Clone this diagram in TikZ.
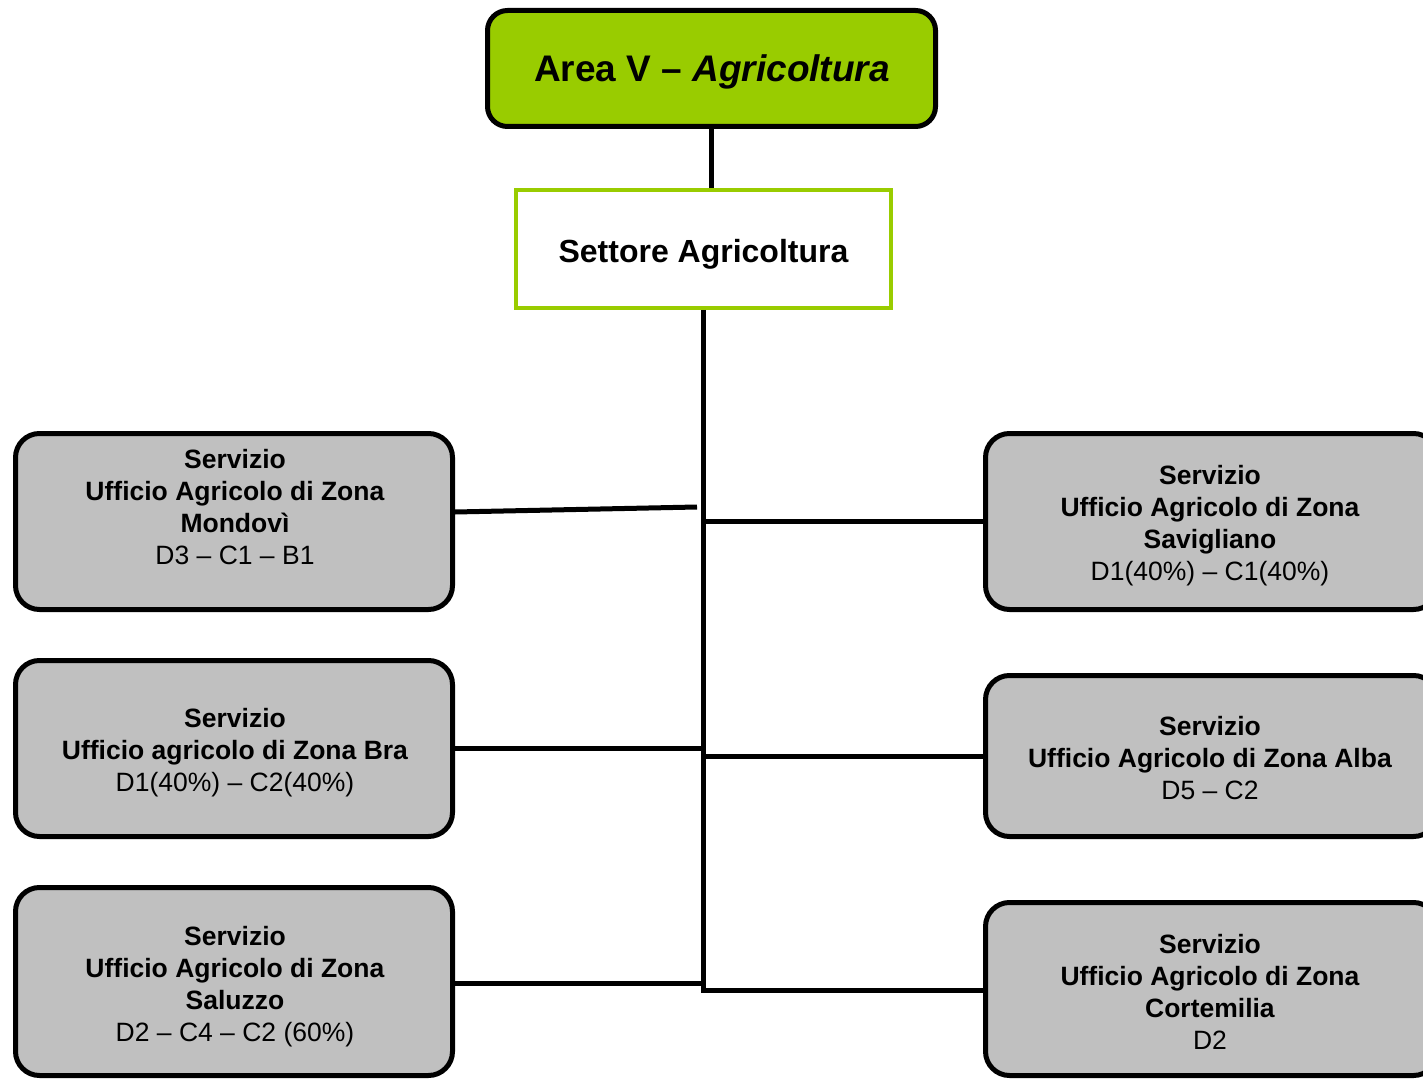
\documentclass[tikz,border=0pt]{standalone}
\usepackage{fontspec}
\setmainfont{Liberation Sans}
\definecolor{agri}{RGB}{153,204,0}
\definecolor{boxgray}{RGB}{192,192,192}
\begin{document}
\begin{tikzpicture}[x=0.5pt,y=-0.5pt,
  conn/.style={line width=2.5pt},
  svc/.style={draw=black, line width=2.5pt, fill=boxgray, rounded corners=12pt,
              minimum width=218.5pt, inner sep=0pt},
  svcr/.style={svc, minimum width=226pt},
  svctext/.style={align=center, font=\fontsize{13.25}{16}\selectfont, inner sep=0pt}]
\useasboundingbox (0,0) rectangle (1423,1080);
\begin{scope}
\clip (0,0) rectangle (1423,1080);

% top
\node[draw=black, line width=2.5pt, fill=agri, rounded corners=10pt,
      minimum width=224pt, minimum height=58pt, inner sep=0pt] (area) at (711.5,68.5) {};
\node[font=\fontsize{18.5}{22}\selectfont\bfseries, inner sep=0pt] (areat) at (712,72)
  {Area V – \textit{Agricoltura}};

\node[draw=agri, line width=2pt, fill=white, minimum width=187.5pt, minimum height=59pt,
      inner sep=0pt] (set) at (703.5,249) {};
\node[font=\fontsize{16}{19}\selectfont\bfseries, inner sep=0pt] (sett) at (703.5,254)
  {Settore Agricoltura};

% left boxes
\node[svc, minimum height=88pt] (mon) at (234,521.5) {};
\node[svctext] (mont) at (235,507)
  {\textbf{Servizio}\\ \textbf{Ufficio Agricolo di Zona}\\ \textbf{Mondovì}\\ D3 – C1 – B1};

\node[svc, minimum height=88pt] (bra) at (234,748.5) {};
\node[svctext] (brat) at (235,753)
  {\textbf{Servizio}\\ \textbf{Ufficio agricolo di Zona Bra}\\ D1(40\%) – C2(40\%)};

\node[svc, minimum height=94pt] (sal) at (234,981.5) {};
\node[svctext] (salt) at (235,987)
  {\textbf{Servizio}\\ \textbf{Ufficio Agricolo di Zona}\\ \textbf{Saluzzo}\\ D2 – C4 – C2 (60\%)};

% right boxes
\node[svcr, minimum height=88pt] (sav) at (1211.5,521.5) {};
\node[svctext] (savt) at (1210,526)
  {\textbf{Servizio}\\ \textbf{Ufficio Agricolo di Zona}\\ \textbf{Savigliano}\\ D1(40\%) – C1(40\%)};

\node[svcr, minimum height=80.5pt] (alb) at (1211.5,756) {};
\node[svctext] (albt) at (1210,758)
  {\textbf{Servizio}\\ \textbf{Ufficio Agricolo di Zona Alba}\\ D5 – C2};

\node[svcr, minimum height=86.5pt] (cor) at (1211.5,989) {};
\node[svctext] (cort) at (1210,992)
  {\textbf{Servizio}\\ \textbf{Ufficio Agricolo di Zona}\\ \textbf{Cortemilia}\\ D2};

% connectors
\coordinate (mj) at (697,507);
\coordinate (tend) at (703.5,990);
\draw[conn] (area.south) -- (area.south |- set.north);
\draw[conn] (set.south) -- (tend) -- (tend -| cor.west);
\draw[conn] ([yshift=4.75pt]mon.east) -- (mj);
\draw[conn] (sav.west) -- (sav.west -| set.south);
\draw[conn] (bra.east) -- (bra.east -| set.south);
\draw[conn] (alb.west) -- (alb.west -| set.south);
\draw[conn] ([yshift=-0.75pt]sal.east) -- ([yshift=-0.75pt]sal.east -| set.south);
\end{scope}
\end{tikzpicture}
\end{document}
